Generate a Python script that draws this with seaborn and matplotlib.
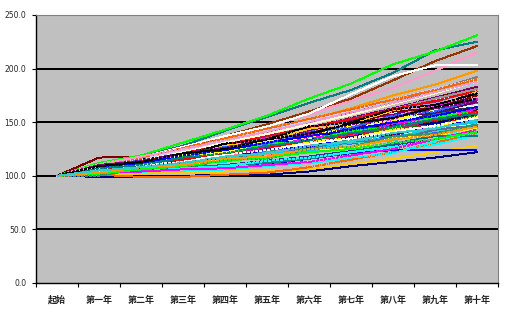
import matplotlib
matplotlib.use("Agg")
import matplotlib.pyplot as plt
import seaborn as sns
import pandas as pd
from matplotlib.ticker import FixedLocator, FuncFormatter, NullFormatter

# ---- data ----
years = ["起始", "第一年", "第二年", "第三年", "第四年", "第五年",
         "第六年", "第七年", "第八年", "第九年", "第十年"]
y_ticks = [0, 50, 100, 150, 200, 250]

s01 = [100, 99, 99, 100, 101, 101, 104, 109, 113, 117, 122]
s02 = [100, 103, 110, 115, 124, 128, 138, 142, 152, 158, 168]
s03 = [100, 106, 108, 115, 117, 125, 128, 137, 140, 148, 153]
s04 = [100, 102, 103, 104, 106, 109, 112, 116, 122, 129, 138]
s05 = [100, 108, 112, 122, 126, 137, 142, 152, 157, 168, 175]
s06 = [100, 117, 118, 124, 133, 142, 150, 158, 166, 174, 182]
s07 = [100, 110, 118, 128, 142, 155, 168, 180, 196, 217, 225]
s08 = [100, 105, 107, 116, 118, 126, 127, 135, 137, 145, 149]
s09 = [100, 101, 108, 110, 118, 120, 128, 131, 140, 143, 151]
s10 = [100, 108, 113, 124, 128, 140, 144, 155, 159, 171, 178]
s11 = [100, 104, 113, 116, 125, 127, 137, 139, 149, 152, 160]
s12 = [100, 106, 107, 115, 116, 124, 126, 134, 136, 145, 148]
s13 = [100, 109, 116, 124, 133, 141, 149, 158, 167, 177, 186]
s14 = [100, 107, 114, 124, 134, 146, 157, 170, 182, 198, 215]
s15 = [100, 104, 114, 118, 129, 132, 144, 148, 160, 165, 176]
s16 = [100, 107, 108, 116, 118, 127, 129, 139, 141, 152, 157]
s17 = [100, 102, 109, 110, 118, 120, 127, 130, 137, 140, 146]
s18 = [100, 105, 105, 112, 113, 121, 122, 131, 133, 142, 145]
s19 = [100, 103, 112, 115, 124, 127, 136, 139, 149, 153, 162]
s20 = [100, 101, 102, 103, 104, 105, 106, 111, 116, 122, 128]
s21 = [100, 106, 113, 122, 133, 143, 152, 163, 175, 185, 198]
s22 = [100, 101, 99, 99, 101, 103, 108, 115, 122, 131, 140]
s23 = [100, 106, 106, 113, 114, 122, 124, 132, 134, 143, 147]
s24 = [100, 108, 114, 121, 128, 136, 144, 154, 163, 172, 181]
s25 = [100, 103, 111, 114, 123, 125, 134, 137, 147, 150, 158]
s26 = [100, 105, 106, 114, 116, 124, 126, 135, 138, 148, 152]
s27 = [100, 107, 110, 119, 121, 131, 133, 143, 145, 155, 159]
s28 = [100, 103, 112, 114, 124, 126, 136, 138, 148, 150, 159]
s29 = [100, 108, 115, 126, 137, 148, 160, 172, 189, 207, 221]
s30 = [100, 110, 116, 122, 129, 137, 145, 153, 161, 169, 177]
s31 = [100, 102, 104, 107, 110, 114, 118, 123, 128, 134, 141]
s32 = [100, 108, 110, 120, 122, 132, 134, 145, 148, 159, 164]
s33 = [100, 102, 111, 114, 124, 126, 137, 139, 150, 153, 162]
s34 = [100, 109, 117, 127, 137, 146, 158, 176, 193, 203, 203]
s35 = [100, 107, 108, 116, 117, 126, 128, 137, 139, 149, 154]
s36 = [100, 112, 119, 131, 143, 156, 172, 186, 204, 216, 231]
s37 = [100, 102, 104, 106, 108, 111, 116, 121, 124, 124, 124]
s38 = [100, 101, 108, 109, 116, 117, 125, 126, 135, 137, 145]
s39 = [100, 102, 104, 106, 108, 110, 113, 117, 121, 132, 150]
s40 = [100, 109, 111, 121, 124, 135, 138, 150, 154, 166, 172]
s41 = [100, 106, 115, 117, 128, 131, 144, 147, 160, 163, 175]
s42 = [100, 106, 107, 116, 117, 127, 129, 139, 141, 151, 156]
s43 = [100, 104, 113, 114, 123, 125, 135, 137, 147, 149, 158]
s44 = [100, 107, 108, 117, 119, 129, 131, 141, 144, 155, 160]
s45 = [100, 109, 115, 122, 130, 138, 147, 155, 164, 174, 184]
s46 = [100, 103, 106, 108, 110, 112, 116, 122, 130, 137, 137]
s47 = [100, 110, 117, 124, 131, 139, 147, 156, 165, 175, 185]
s48 = [100, 107, 114, 122, 131, 140, 150, 159, 168, 180, 192]
s49 = [100, 104, 114, 117, 129, 133, 145, 150, 162, 167, 178]
s50 = [100, 106, 106, 115, 117, 127, 129, 139, 142, 153, 158]
s51 = [100, 108, 115, 123, 131, 139, 148, 157, 167, 177, 188]
s52 = [100, 107, 109, 119, 121, 132, 135, 146, 149, 161, 166]
s53 = [100, 105, 114, 116, 126, 129, 140, 144, 155, 159, 169]
s54 = [100, 101, 109, 110, 119, 120, 130, 132, 142, 145, 154]
s55 = [100, 108, 108, 117, 119, 129, 132, 143, 146, 157, 163]
s56 = [100, 109, 116, 124, 133, 142, 151, 161, 171, 181, 190]
s57 = [100, 102, 112, 113, 123, 125, 136, 138, 149, 153, 163]
s58 = [100, 107, 108, 118, 120, 130, 132, 142, 145, 155, 160]
s59 = [100, 108, 114, 121, 129, 137, 145, 153, 162, 170, 179]
s60 = [100, 105, 106, 115, 116, 125, 127, 136, 138, 148, 152]
s61 = [100, 104, 114, 117, 128, 132, 144, 149, 161, 166, 178]
s62 = [100, 104, 105, 113, 113, 122, 123, 133, 135, 145, 150]
s63 = [100, 109, 117, 126, 135, 144, 153, 162, 171, 180, 190]
s64 = [100, 100, 107, 107, 115, 116, 125, 127, 137, 139, 148]
s65 = [100, 105, 115, 119, 130, 134, 146, 150, 162, 166, 177]
s66 = [100, 107, 109, 119, 122, 133, 136, 147, 151, 163, 170]
s67 = [100, 106, 115, 117, 127, 130, 141, 145, 156, 160, 171]
s68 = [100, 111, 118, 125, 133, 141, 150, 159, 168, 178, 188]
s69 = [100, 103, 104, 107, 109, 114, 117, 122, 127, 133, 141]
s70 = [100, 104, 104, 106, 107, 110, 113, 119, 125, 134, 143]
s71 = [100, 106, 111, 114, 121, 124, 132, 135, 143, 146, 155]
s72 = [100, 108, 112, 119, 124, 131, 137, 143, 150, 156, 164]
s73 = [100, 105, 109, 115, 120, 126, 133, 139, 146, 152, 160]
s74 = [100, 102, 106, 109, 114, 117, 122, 125, 131, 134, 141]
s75 = [100, 110, 114, 121, 126, 134, 140, 148, 154, 163, 170]
s76 = [100, 104, 110, 113, 120, 124, 130, 135, 141, 147, 154]
s77 = [100, 107, 110, 117, 121, 128, 133, 140, 145, 153, 158]
s78 = [100, 103, 108, 110, 116, 118, 125, 127, 134, 138, 146]
s79 = [100, 109, 113, 121, 125, 134, 139, 149, 154, 164, 172]
s80 = [100, 105, 108, 112, 118, 121, 128, 132, 140, 144, 152]

series = [s01, s02, s03, s04, s05, s06, s07, s08, s09, s10, s11, s12, s13, s14,
          s15, s16, s17, s18, s19, s20, s21, s22, s23, s24, s25, s26, s27, s28,
          s29, s30, s31, s32, s33, s34, s35, s36, s37, s38, s39, s40, s41, s42,
          s43, s44, s45, s46, s47, s48, s49, s50, s51, s52, s53, s54, s55, s56,
          s57, s58, s59, s60, s61, s62, s63, s64, s65, s66, s67, s68, s69, s70,
          s71, s72, s73, s74, s75, s76, s77, s78, s79, s80]

excel_colors = ["#000080", "#FF00FF", "#FFFF00", "#00FFFF", "#800080", "#800000",
                "#008080", "#0000FF", "#00CCFF", "#CCFFFF", "#CCFFCC", "#FFFF99",
                "#99CCFF", "#FF99CC", "#CC99FF", "#FFCC99", "#3366FF", "#33CCCC",
                "#99CC00", "#FFCC00", "#FF9900", "#FF6600", "#666699", "#969696",
                "#003366", "#339966", "#003300", "#333300", "#993300", "#993366",
                "#333399", "#333333", "#000000", "#FFFFFF", "#FF0000", "#00FF00",
                "#0000FF", "#FFFF00", "#00FFFF", "#FF00FF", "#800000", "#008000",
                "#000080", "#808000", "#800080", "#008080", "#C0C0C0", "#808080",
                "#9999FF", "#993366", "#FFFFCC", "#CCFFFF", "#660066", "#FF8080",
                "#0066CC", "#CCCCFF", "#FF00FF", "#00FF00", "#FF0000", "#0000FF",
                "#FFCC00", "#00CCFF", "#FF6600", "#339966", "#000000", "#FFFF00",
                "#3366FF", "#FF99CC", "#00FFFF", "#FF00FF", "#FFFF00", "#0000FF",
                "#FF0000", "#00FF00", "#800080", "#FFFFFF", "#008080", "#FF9900",
                "#000000", "#33CCCC"]

rows = []
for k, vals in enumerate(series):
    for i, v in enumerate(vals):
        rows.append({"pos": i, "value": v, "series": f"S{k+1:02d}"})
df = pd.DataFrame(rows)
names = [f"S{k+1:02d}" for k in range(len(series))]
palette = {n: c for n, c in zip(names, excel_colors)}
dash_styles = {}
for k, n in enumerate(names):
    if k in (21, 36, 37, 38, 39, 40, 41, 42, 44, 49):
        dash_styles[n] = (4, 1.5, 1, 1.5)
    elif k >= 56:
        dash_styles[n] = (3, 1.5)
    else:
        dash_styles[n] = ""

sns.set_theme(style="white")
plt.rcParams["font.family"] = ["Noto Sans CJK SC", "DejaVu Sans"]

fig = plt.figure(figsize=(5.07, 3.12), dpi=100)
fig.patch.set_facecolor("white")
ax = fig.add_axes([36 / 507, 1 - 283 / 312, 462 / 507, 268 / 312])
ax.set_facecolor("#C0C0C0")

for y in [50, 100, 150, 200]:
    ax.axhline(y, color="black", lw=1.4, zorder=0.5, antialiased=False)

sns.lineplot(data=df, x="pos", y="value", hue="series", style="series",
             palette=palette, dashes=dash_styles, legend=False, lw=0.7,
             estimator=None, sort=False, ax=ax)
for ln in ax.get_lines()[4:]:
    ln.set_antialiased(False)

ax.set_xlim(-0.5, 10.5)
ax.set_ylim(0, 250)
ax.set_xlabel("")
ax.set_ylabel("")

ax.xaxis.set_major_locator(FixedLocator(list(range(len(years)))))
ax.set_xticklabels(years, fontsize=6.5, fontweight="bold")
ax.xaxis.set_minor_locator(FixedLocator([i - 0.5 for i in range(len(years) + 1)]))
ax.xaxis.set_minor_formatter(NullFormatter())
ax.tick_params(axis="x", which="major", length=0, pad=9)
ax.tick_params(axis="x", which="minor", length=3, width=0.8, color="black", direction="out")
ax.yaxis.set_major_locator(FixedLocator(y_ticks))
ax.yaxis.set_major_formatter(FuncFormatter(lambda v, p: f"{v:.1f}"))
ax.tick_params(axis="y", length=3, width=0.8, color="black", direction="out",
               labelsize=5.5, pad=4)
ax.tick_params(axis="both", which="both", bottom=True, left=True)
for lab in ax.get_yticklabels():
    lab.set_family(["DejaVu Sans"])

for s in ["left", "bottom"]:
    ax.spines[s].set_color("black")
    ax.spines[s].set_linewidth(1.0)
for s in ["top", "right"]:
    ax.spines[s].set_color("#808080")
    ax.spines[s].set_linewidth(0.8)

fig.savefig("out.png", dpi=100)
